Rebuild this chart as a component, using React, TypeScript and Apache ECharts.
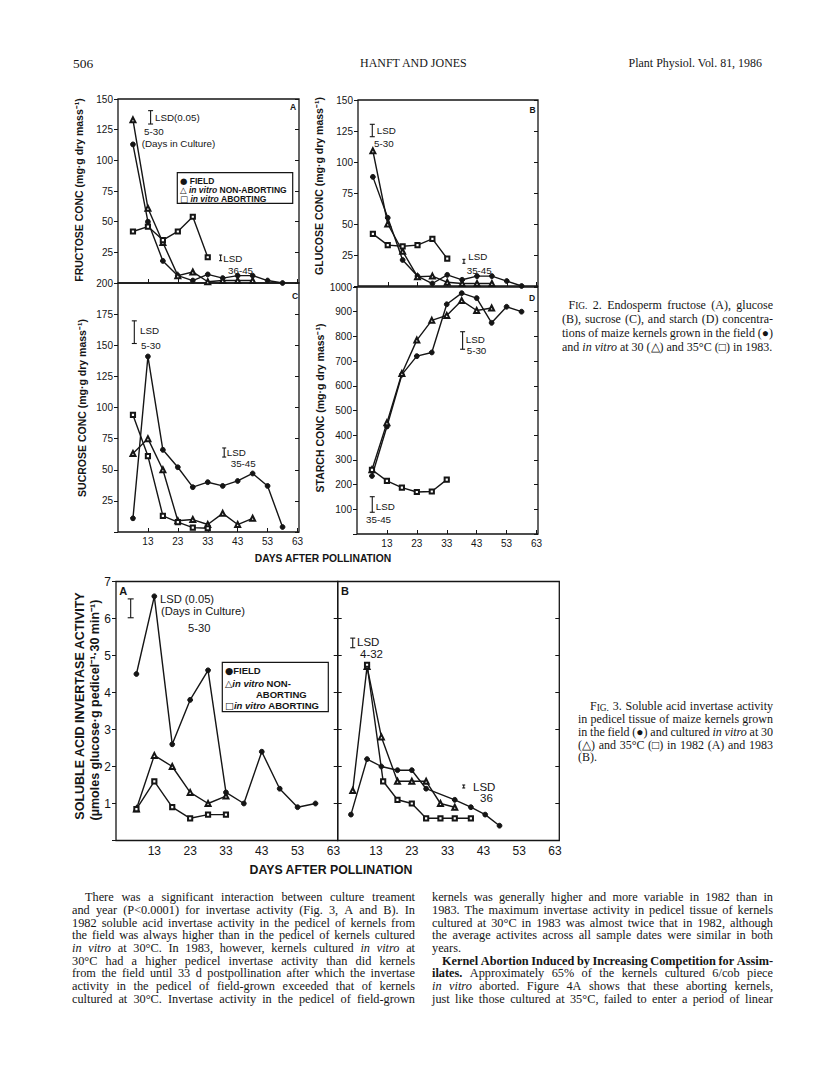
import React, { useEffect, useRef } from "react";
import * as echarts from "echarts";

// ---------------- DATA ----------------
// Fig. 2 (1983) sampling days after pollination
const fig2Days = [8, 13, 18, 23, 28, 33, 38, 43, 48, 53, 58];
const fig2XTicks = [13, 23, 33, 43, 53, 63];

// Fig. 2A fructose (mg g-1 dry mass)
const fructoseField = [113, 50, 18, 6, 2, 7, 4, 6, 6, 2, 0];
const fructoseNonAborting = [133, 61, 33, 6, 9, 1, 2, 2, 2];
const fructoseAborting = [42, 46, 35, 42, 54, 21];
// Fig. 2B glucose
const glucoseField = [88, 55, 21, 8, 2, 9, 5, 8, 8, 4, 0];
const glucoseNonAborting = [109, 50, 28, 7.5, 8, 3, 2, 2, 2];
const glucoseAborting = [42, 33, 32, 33, 38, 22];
// Fig. 2C sucrose
const sucroseField = [11, 141, 66, 52, 36, 40, 37, 41, 47, 37, 4];
const sucroseNonAborting = [63, 75, 50, 9, 10, 6, 15, 6, 11];
const sucroseAborting = [94, 61, 13, 8, 3.5, 3];
// Fig. 2D starch
const starchField = [235, 435, 645, 720, 735, 930, 975, 955, 855, 920, 900];
const starchNonAborting = [260, 450, 650, 785, 865, 885, 945, 905, 915];
const starchAborting = [260, 215, 188, 170, 172, 220];

// Fig. 3A (1982) invertase activity
const inv82Days = [8, 13, 18, 23, 28, 33, 38, 43, 48, 53, 58];
const inv82Field = [4.5, 6.6, 2.6, 3.8, 4.6, 1.3, 1.0, 2.4, 1.4, 0.9, 1.0];
const inv82NonAborting = [0.85, 2.3, 2.0, 1.3, 1.0, 1.2];
const inv82Aborting = [0.85, 1.6, 0.9, 0.6, 0.7, 0.7];
// Fig. 3B (1983)
const inv83FieldDays = [6, 10.5, 14.5, 19, 23, 27, 35, 39.5, 43.5, 47.5];
const inv83Field = [0.7, 2.2, 2.0, 1.9, 1.9, 1.4, 1.1, 0.9, 0.7, 0.4];
const inv83NonAbortingDays = [6.5, 10.5, 14.5, 19, 23, 27, 31, 35];
const inv83NonAborting = [1.35, 4.7, 2.8, 1.6, 1.6, 1.6, 1.0, 0.9];
const inv83AbortingDays = [10.5, 15, 19, 23, 27, 31, 35, 39.5];
const inv83Aborting = [4.75, 1.6, 1.1, 1.0, 0.6, 0.6, 0.6, 0.6];

// LSD bars (panel, day, low value, high value)
const lsdBars = [
  { g: 0, day: 13.9, lo: 129.6, hi: 140.5, cap: 2.5 },
  { g: 0, day: 37.3, lo: 18.2, hi: 22.8, cap: 1.5 },
  { g: 1, day: 7.8, lo: 120.4, hi: 130.4, cap: 2.5 },
  { g: 1, day: 38.6, lo: 18.3, hi: 21.5, cap: 1.5 },
  { g: 2, day: 8.45, lo: 151.4, hi: 169.6, cap: 2.5 },
  { g: 2, day: 38.5, lo: 60.2, hi: 67.5, cap: 2 },
  { g: 3, day: 38.3, lo: 748, hi: 819, cap: 2.5 },
  { g: 3, day: 8.1, lo: 88, hi: 151, cap: 2.5 },
  { g: 4, day: 6.4, lo: 6.02, hi: 6.53, cap: 3 },
  { g: 5, day: 6.5, lo: 5.21, hi: 5.47, cap: 2.5 },
  { g: 5, day: 37.5, lo: 1.42, hi: 1.5, cap: 1.5 },
];

// Text content
const bodyLeft = [
  "There was a significant interaction between culture treament",
  "and year (P<0.0001) for invertase activity (Fig. 3, A and B). In",
  "1982 soluble acid invertase activity in the pedicel of kernels from",
  "the field was always higher than in the pedicel of kernels cultured",
  "_in _vitro at 30°C. In 1983, however, kernels cultured _in _vitro at",
  "30°C had a higher pedicel invertase activity than did kernels",
  "from the field until 33 d postpollination after which the invertase",
  "activity in the pedicel of field-grown exceeded that of kernels",
  "cultured at 30°C. Invertase activity in the pedicel of field-grown",
];
const bodyRight = [
  "kernels was generally higher and more variable in 1982 than in",
  "1983. The maximum invertase activity in pedicel tissue of kernels",
  "cultured at 30°C in 1983 was almost twice that in 1982, although",
  "the average activites across all sample dates were similar in both",
  "years.",
  "*Kernel *Abortion *Induced *by *Increasing *Competition *for *Assim-",
  "*ilates. Approximately 65% of the kernels cultured 6/cob piece",
  "_in _vitro aborted. Figure 4A shows that these aborting kernels,",
  "just like those cultured at 35°C, failed to enter a period of linear",
];
const caption2 = [
  "FIG. 2. Endosperm fructose (A), glucose",
  "(B), sucrose (C), and starch (D) concentra-",
  "tions of maize kernels grown in the field (●)",
  "and _in _vitro at 30 (△) and 35°C (□) in 1983.",
];
const caption3 = [
  "FIG. 3. Soluble acid invertase activity",
  "in pedicel tissue of maize kernels grown",
  "in the field (●) and cultured _in _vitro at 30",
  "(△) and 35°C (□) in 1982 (A) and 1983",
  "(B).",
];

// ---------------- STYLE / LAYOUT ----------------
const INK = "#151515";
const SANS = '"Liberation Sans", Arial, Helvetica, sans-serif';
const SERIF = '"Liberation Serif", "Times New Roman", serif';
const SYM = '"DejaVu Sans", sans-serif';

const grids = [
  { left: 118, top: 99, width: 181, height: 184 }, // 2A
  { left: 358, top: 100, width: 180, height: 186 }, // 2B
  { left: 118, top: 283, width: 181, height: 249 }, // 2C
  { left: 357, top: 287, width: 181, height: 247 }, // 2D
  { left: 116, top: 581.5, width: 221.7, height: 259 }, // 3A
  { left: 337.7, top: 581.5, width: 221.6, height: 259 }, // 3B
];

const pairs = (days: number[], vals: number[]) => vals.map((v, i) => [days[i], v]);

const kinds: any = {
  field: { symbol: "circle", symbolSize: 4.8 },
  non: { symbol: "emptyTriangle", symbolSize: 5 },
  abort: { symbol: "emptyRect", symbolSize: 4.2 },
};
const names: any = { field: "FIELD", non: "in vitro NON-ABORTING", abort: "in vitro ABORTING" };

function lineSeries(g: number, kind: string, data: number[][]) {
  return {
    type: "line",
    name: names[kind],
    xAxisIndex: g,
    yAxisIndex: 2 * g,
    data,
    symbol: kinds[kind].symbol,
    symbolSize: kinds[kind].symbolSize,
    showSymbol: true,
    lineStyle: { color: INK, width: 1.4 },
    itemStyle: { color: INK, borderColor: INK, borderWidth: 1 },
    emphasis: { disabled: true },
    clip: false,
  };
}

function xAxisFor(g: number, min: number, max: number, showLabel: boolean, fontSize: number, ticks: boolean) {
  return {
    type: "value",
    gridIndex: g,
    min,
    max,
    axisLine: { show: false },
    splitLine: { show: false },
    axisTick: { show: ticks, inside: true, length: 4, customValues: fig2XTicks, lineStyle: { color: INK, width: 1 } },
    axisLabel: {
      show: showLabel,
      customValues: fig2XTicks,
      fontSize,
      fontFamily: SANS,
      color: INK,
      margin: 4,
      formatter: (v: number) => String(v),
    },
  };
}

function yAxesFor(g: number, max: number, interval: number, labels: boolean, fontSize: number, leftInside: boolean) {
  const base = {
    type: "value",
    gridIndex: g,
    min: 0,
    max,
    interval,
    axisLine: { show: false },
    splitLine: { show: false },
  };
  return [
    {
      ...base,
      position: "left",
      axisTick: { show: true, inside: leftInside, length: 4, lineStyle: { color: INK, width: 1 } },
      axisLabel: {
        show: labels,
        fontSize,
        fontFamily: SANS,
        color: INK,
        margin: 5,
        showMaxLabel: true,
        formatter: (v: number) => (v === 0 ? "" : String(v)),
      },
    },
    {
      ...base,
      position: "right",
      axisTick: { show: true, inside: true, length: 4, lineStyle: { color: INK, width: 1 } },
      axisLabel: { show: false },
    },
  ];
}

function buildOption() {
  return {
    animation: false,
    backgroundColor: "#ffffff",
    grid: grids.map((gr) => ({
      ...gr,
      show: true,
      borderColor: INK,
      borderWidth: 1.3,
      backgroundColor: "transparent",
      containLabel: false,
      outerBoundsMode: "none",
    })),
    xAxis: [
      xAxisFor(0, 3, 63.5, false, 10, true),
      xAxisFor(1, 3, 63.5, false, 10, true),
      xAxisFor(2, 3, 63.5, true, 10, true),
      xAxisFor(3, 3, 63.5, true, 10, true),
      xAxisFor(4, 2.3, 64.2, true, 12, false),
      xAxisFor(5, 2.3, 64.2, true, 12, false),
    ],
    yAxis: [
      ...yAxesFor(0, 150, 25, true, 10, false),
      ...yAxesFor(1, 150, 25, true, 10, false),
      ...yAxesFor(2, 200, 25, true, 10, false),
      ...yAxesFor(3, 1000, 100, true, 10, false),
      ...yAxesFor(4, 7, 1, true, 12, false),
      ...yAxesFor(5, 7, 1, false, 12, true),
    ],
    series: [
      lineSeries(0, "field", pairs(fig2Days, fructoseField)),
      lineSeries(0, "non", pairs(fig2Days, fructoseNonAborting)),
      lineSeries(0, "abort", pairs(fig2Days, fructoseAborting)),
      lineSeries(1, "field", pairs(fig2Days, glucoseField)),
      lineSeries(1, "non", pairs(fig2Days, glucoseNonAborting)),
      lineSeries(1, "abort", pairs(fig2Days, glucoseAborting)),
      lineSeries(2, "field", pairs(fig2Days, sucroseField)),
      lineSeries(2, "non", pairs(fig2Days, sucroseNonAborting)),
      lineSeries(2, "abort", pairs(fig2Days, sucroseAborting)),
      lineSeries(3, "field", pairs(fig2Days, starchField)),
      lineSeries(3, "non", pairs(fig2Days, starchNonAborting)),
      lineSeries(3, "abort", pairs(fig2Days, starchAborting)),
      lineSeries(4, "field", pairs(inv82Days, inv82Field)),
      lineSeries(4, "non", pairs(inv82Days, inv82NonAborting)),
      lineSeries(4, "abort", pairs(inv82Days, inv82Aborting)),
      lineSeries(5, "field", pairs(inv83FieldDays, inv83Field)),
      lineSeries(5, "non", pairs(inv83NonAbortingDays, inv83NonAborting)),
      lineSeries(5, "abort", pairs(inv83AbortingDays, inv83Aborting)),
    ],
  };
}

// ---------------- TEXT HELPERS ----------------
let ctx: CanvasRenderingContext2D | null = null;
function measure(text: string, font: string) {
  if (!ctx) ctx = document.createElement("canvas").getContext("2d");
  if (!ctx) return text.length * 5;
  ctx.font = font;
  return ctx.measureText(text).width;
}

type Word = { text: string; italic: boolean; bold: boolean; smallcaps: boolean };
function parseLine(line: string): Word[] {
  return line
    .split(" ")
    .filter((t) => t.length > 0)
    .map((tok) => {
      let italic = false;
      let bold = false;
      if (tok.startsWith("_")) {
        italic = true;
        tok = tok.slice(1);
      } else if (tok.startsWith("*")) {
        bold = true;
        tok = tok.slice(1);
      }
      return { text: tok, italic, bold, smallcaps: tok === "FIG." };
    });
}
const fontOf = (w: { italic?: boolean; bold?: boolean }, size: number) =>
  `${w.italic ? "italic " : ""}${w.bold ? "bold " : ""}${size}px ${SERIF}`;
function wordWidth(w: Word, size: number) {
  if (w.smallcaps) return measure("F", fontOf(w, size)) + measure(w.text.slice(1), fontOf(w, size * 0.78));
  return measure(w.text, fontOf(w, size));
}

function textElem(x: number, y: number, text: string, size: number, w: any, sx: number) {
  return {
    type: "text",
    x,
    y,
    scaleX: sx,
    silent: true,
    style: {
      text,
      fill: INK,
      fontSize: size,
      fontFamily: SERIF,
      fontWeight: w.bold ? "bold" : "normal",
      fontStyle: w.italic ? "italic" : "normal",
      align: "left",
      verticalAlign: "bottom",
    },
  };
}

function textBlock(
  lines: string[],
  x0: number,
  x1: number,
  y0: number,
  lh: number,
  size: number,
  indents: Record<number, number>,
  ragged: number[]
) {
  const parsed = lines.map(parseLine);
  const sp = measure(" ", fontOf({}, size));
  let sx = 1;
  parsed.forEach((ws, i) => {
    if (ragged.includes(i)) return;
    const avail = x1 - x0 - (indents[i] || 0);
    const w = ws.reduce((s, wd) => s + wordWidth(wd, size), 0) + (ws.length - 1) * sp * 0.7;
    sx = Math.min(sx, avail / w);
  });
  const out: any[] = [];
  parsed.forEach((ws, i) => {
    const start = x0 + (indents[i] || 0);
    const widths = ws.map((w) => wordWidth(w, size) * sx);
    const total = widths.reduce((a, b) => a + b, 0);
    let gap = sp * sx;
    if (!ragged.includes(i) && ws.length > 1) gap = (x1 - start - total) / (ws.length - 1);
    const yb = y0 + i * lh + size * 0.48;
    let x = start;
    ws.forEach((w, k) => {
      if (w.smallcaps) {
        out.push(textElem(x, yb, "F", size, w, sx));
        out.push(textElem(x + measure("F", fontOf(w, size)) * sx, yb, w.text.slice(1), size * 0.78, w, sx));
      } else {
        out.push(textElem(x, yb, w.text, size, w, sx));
      }
      x += widths[k] + gap;
    });
  });
  return out;
}

function sansText(x: number, y: number, text: string, size: number, opts: any = {}) {
  return {
    type: "text",
    x,
    y,
    rotation: opts.rotation || 0,
    silent: true,
    style: {
      text,
      fill: INK,
      fontSize: size,
      fontFamily: SANS,
      fontWeight: opts.bold ? "bold" : "normal",
      fontStyle: opts.italic ? "italic" : "normal",
      align: opts.align || "left",
      verticalAlign: "middle",
      rich: opts.rich,
    },
  };
}

function legendRich(size: number) {
  return {
    s: { fontFamily: SYM, fontSize: size, fill: INK },
    i: { fontFamily: SANS, fontSize: size, fontWeight: "bold", fontStyle: "italic", fill: INK },
    b: { fontFamily: SANS, fontSize: size, fontWeight: "bold", fill: INK },
  };
}

function buildGraphics(chart: any) {
  const g: any[] = [];

  // header
  g.push({ type: "text", x: 73, y: 63, silent: true, style: { text: "506", fill: INK, fontSize: 13.5, fontFamily: SERIF, verticalAlign: "middle" } });
  g.push({ type: "text", x: 360, y: 63, scaleX: 0.92, silent: true, style: { text: "HANFT AND JONES", fill: INK, fontSize: 13, fontFamily: SERIF, verticalAlign: "middle" } });
  g.push({ type: "text", x: 762, y: 63, scaleX: 0.92, silent: true, style: { text: "Plant Physiol. Vol. 81, 1986", fill: INK, fontSize: 13, fontFamily: SERIF, align: "right", verticalAlign: "middle" } });

  // axis titles (Fig. 2)
  const rot = Math.PI / 2;
  g.push(sansText(79, 190, "FRUCTOSE CONC (mg·g dry mass⁻¹)", 10.5, { bold: true, rotation: rot, align: "center" }));
  g.push(sansText(319, 186, "GLUCOSE CONC (mg·g dry mass⁻¹)", 10.5, { bold: true, rotation: rot, align: "center" }));
  g.push(sansText(81.5, 408, "SUCROSE CONC (mg·g dry mass⁻¹)", 10.5, { bold: true, rotation: rot, align: "center" }));
  g.push(sansText(319.5, 408, "STARCH CONC (mg·g dry mass⁻¹)", 10.5, { bold: true, rotation: rot, align: "center" }));
  g.push(sansText(323, 558, "DAYS AFTER POLLINATION", 10.3, { bold: true, align: "center" }));
  // Fig. 3 titles
  g.push(sansText(80, 706, "SOLUBLE ACID INVERTASE ACTIVITY", 12.5, { bold: true, rotation: rot, align: "center" }));
  g.push(sansText(95, 710, "(µmoles glucose·g pedicel⁻¹·30 min⁻¹)", 12.5, { bold: true, rotation: rot, align: "center" }));
  g.push(sansText(331, 870, "DAYS AFTER POLLINATION", 12.3, { bold: true, align: "center" }));

  // panel letters
  g.push(sansText(293, 107, "A", 8.5, { bold: true, align: "center" }));
  g.push(sansText(532.5, 109.5, "B", 8.5, { bold: true, align: "center" }));
  g.push(sansText(295, 295.5, "C", 8.5, { bold: true, align: "center" }));
  g.push(sansText(532, 297.5, "D", 8.5, { bold: true, align: "center" }));
  g.push(sansText(123.3, 590.5, "A", 11, { bold: true, align: "center" }));
  g.push(sansText(345, 590.5, "B", 11, { bold: true, align: "center" }));

  // legend Fig. 2A
  g.push({ type: "rect", silent: true, shape: { x: 177.3, y: 172.7, width: 115.4, height: 30.6 }, style: { fill: "#fff", stroke: INK, lineWidth: 1.2 } });
  const r2 = legendRich(8.5);
  g.push(sansText(180, 180.7, "{s|●} {b|FIELD}", 8.5, { bold: true, rich: r2 }));
  g.push(sansText(180, 190, "{s|△} {i|in vitro} {b|NON-ABORTING}", 8.5, { bold: true, rich: r2 }));
  g.push(sansText(180, 199, "{s|□} {i|in vitro} {b|ABORTING}", 8.5, { bold: true, rich: r2 }));

  // legend Fig. 3A
  g.push({ type: "rect", silent: true, shape: { x: 222.3, y: 662.3, width: 106, height: 49.4 }, style: { fill: "#fff", stroke: INK, lineWidth: 1.2 } });
  const r3 = legendRich(9.5);
  g.push(sansText(225, 670.7, "{s|●}{b|FIELD}", 9.5, { bold: true, rich: r3 }));
  g.push(sansText(225, 683.5, "{s|△}{i|in vitro} {b|NON-}", 9.5, { bold: true, rich: r3 }));
  g.push(sansText(256, 694, "ABORTING", 9.5, { bold: true }));
  g.push(sansText(225, 705.7, "{s|□}{i|in vitro} {b|ABORTING}", 9.5, { bold: true, rich: r3 }));

  // LSD bars via the chart's scales
  lsdBars.forEach((b) => {
    const p1 = chart.convertToPixel({ gridIndex: b.g }, [b.day, b.lo]);
    const p2 = chart.convertToPixel({ gridIndex: b.g }, [b.day, b.hi]);
    if (!p1 || !p2) return;
    const x = p1[0];
    const st = { stroke: INK, lineWidth: 1.1 };
    g.push({ type: "line", silent: true, shape: { x1: x, y1: p1[1], x2: x, y2: p2[1] }, style: st });
    g.push({ type: "line", silent: true, shape: { x1: x - b.cap, y1: p1[1], x2: x + b.cap, y2: p1[1] }, style: st });
    g.push({ type: "line", silent: true, shape: { x1: x - b.cap, y1: p2[1], x2: x + b.cap, y2: p2[1] }, style: st });
  });

  // LSD labels
  const f2 = 9.8;
  const lsdTexts: [number, number, string, number][] = [
    [155, 117, "LSD(0.05)", f2],
    [144, 131.7, "5-30", f2],
    [141.7, 143.3, "(Days in Culture)", f2],
    [223.3, 258.3, "LSD", f2],
    [228, 270, "36-45", f2],
    [376.7, 130, "LSD", f2],
    [374, 143.3, "5-30", f2],
    [468.3, 256.7, "LSD", f2],
    [466.7, 270, "35-45", f2],
    [140, 330, "LSD", f2],
    [141, 345.7, "5-30", f2],
    [226.7, 452.7, "LSD", f2],
    [230.7, 463.3, "35-45", f2],
    [465.7, 339.3, "LSD", f2],
    [466.7, 350, "5-30", f2],
    [375.7, 506.7, "LSD", f2],
    [366, 519.3, "35-45", f2],
    [160, 599, "LSD (0.05)", 11.2],
    [161, 611, "(Days in Culture)", 11.2],
    [188, 628.3, "5-30", 11.2],
    [357, 641.7, "LSD", 11.5],
    [360, 654, "4-32", 11.5],
    [473, 786.7, "LSD", 11.5],
    [480, 797.7, "36", 11.5],
  ];
  lsdTexts.forEach(([x, y, t, s]) => g.push(sansText(x, y, t, s)));

  // captions and body text
  g.push(...textBlock(caption2, 562, 773, 305, 14, 12, { 0: 6.5 }, [3]));
  g.push(...textBlock(caption3, 578, 773, 706.7, 12.75, 12, { 0: 12 }, [4]));
  g.push(...textBlock(bodyLeft, 72, 415, 897.3, 12.67, 12.3, { 0: 13 }, []));
  g.push(...textBlock(bodyRight, 432, 773, 897.3, 12.67, 12.3, { 5: 10 }, [4]));

  return g;
}

export default function App() {
  const ref = useRef<HTMLDivElement>(null);
  useEffect(() => {
    const el = ref.current;
    if (!el) return;
    const chart = echarts.init(el, null, { renderer: "svg", width: 816, height: 1073 });
    chart.setOption(buildOption() as any);
    chart.setOption({ graphic: buildGraphics(chart) } as any);
    return () => chart.dispose();
  }, []);
  return (
    <div
      ref={ref}
      style={{ position: "absolute", left: 0, top: 0, width: 816, height: 1073, background: "#fff" }}
    />
  );
}
